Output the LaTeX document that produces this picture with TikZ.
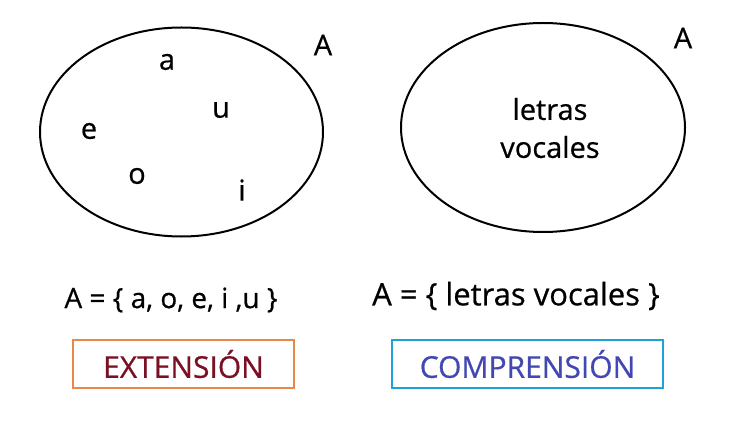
\documentclass[tikz,border=0pt]{standalone}
\usepackage{fontspec}
\setmainfont{Open Sans}[FakeBold=0.6]
\definecolor{extbox}{HTML}{E8884A}
\definecolor{exttxt}{HTML}{7A1024}
\definecolor{compbox}{HTML}{1DA3D9}
\definecolor{comptxt}{HTML}{4247B2}
\tikzset{
  elem/.style={font=\fontsize{29}{30}\selectfont, inner sep=0pt},
  formula/.style={font=\fontsize{28}{30}\selectfont, inner sep=0pt},
  labelbox/.style={line width=2.2pt, minimum width=#1, minimum height=48pt, inner sep=0pt, font=\fontsize{30}{32}\selectfont},
}
\begin{document}
\begin{tikzpicture}[x=1pt,y=-1pt]
\useasboundingbox (0,0) rectangle (754,422);
\draw[line width=2pt] (181.5,132) ellipse [x radius=141.5, y radius=104.5];
\draw[line width=2pt] (543,127.5) ellipse [x radius=142, y radius=104.5];
\node[elem] (la) at (323,45) {A};
\node[elem] (ra) at (683,38) {A};
\node[elem] (ea) at (167,62) {a};
\node[elem] (eu) at (221,110) {u};
\node[elem] (ee) at (89,131) {e};
\node[elem] (eo) at (137,176) {o};
\node[elem] (ei) at (242,190) {i};
\node[elem, align=center, font=\fontsize{29}{38}\selectfont] (lv) at (550,128) {letras\\vocales};
\node[formula] (fe) at (171,300) {A = \{ a, o, e, i ,u \}};
\node[formula, font=\fontsize{31}{33}\selectfont] (fc) at (516,296) {A = \{ letras vocales \}};
\node[labelbox=221pt, draw=extbox, text=exttxt] (bx) at (183.5,364) {EXTENSIÓN};
\node[labelbox=271pt, draw=compbox, text=comptxt] (bc) at (527.5,364) {COMPRENSIÓN};
\end{tikzpicture}
\end{document}
